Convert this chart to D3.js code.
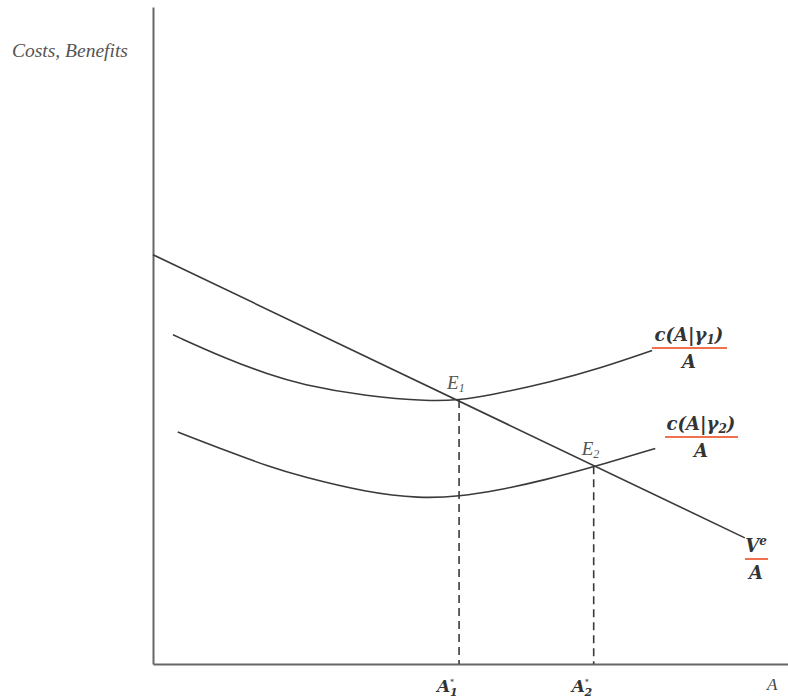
<!DOCTYPE html>
<html>
<head>
<meta charset="utf-8">
<script src="https://cdn.jsdelivr.net/npm/d3@7"></script>
<style>
  body { margin: 0; background: #fff; }
  svg { display: block; }
</style>
</head>
<body>
<div id="chart"></div>
<script>
// curve samples (A, value)
const costCurve1 = [
    [3.15, 50.1], [11.65, 46.4], [18.4, 44.0], [23.15, 42.6], [33.7, 40.7],
    [43.6, 40.0], [48.2, 40.2], [52.6, 40.8], [63.0, 43.0],
    [70.4, 45.0], [78.6, 47.7]
];
const costCurve2 = [
    [3.9, 35.3], [11.65, 32.4], [18.4, 30.0], [23.15, 28.6], [33.7, 26.1],
    [42.0, 25.2], [48.3, 25.5], [54.2, 26.4], [61.7, 28.0],
    [69.4, 30.0], [79.1, 32.8]
];
const benefitLine = [[0, 62.3], [93.2, 19.2]];
const equilibria = [
    { name: "E", sub: "1", a: 48.2, v: 40.2, star: "1" },
    { name: "E", sub: "2", a: 69.4, v: 30.1, star: "2" }
];

const W = 788, H = 700;
const margin = { top: 7, right: 0, bottom: 36, left: 153 };

const svg = d3.select("#chart")
    .append("svg")
    .attr("width", W)
    .attr("height", H);

const x = d3.scaleLinear().domain([0, 100]).range([margin.left, W - margin.right]);
const y = d3.scaleLinear().domain([0, 100]).range([H - margin.bottom, margin.top]);

// axes, no ticks
svg.append("g")
    .attr("transform", `translate(0,${y(0)})`)
    .call(d3.axisBottom(x).tickValues([]).tickSizeOuter(0))
    .select(".domain").attr("stroke", "#666").attr("stroke-width", 2);
svg.append("g")
    .attr("transform", `translate(${x(0)},0)`)
    .call(d3.axisLeft(y).tickValues([]).tickSizeOuter(0))
    .select(".domain").attr("stroke", "#666").attr("stroke-width", 2);

const smooth = d3.line()
    .x(d => x(d[0]))
    .y(d => y(d[1]))
    .curve(d3.curveBasis);

[costCurve1, costCurve2, benefitLine].forEach(data => {
    svg.append("path")
        .datum(data)
        .attr("d", smooth)
        .attr("fill", "none")
        .attr("stroke", "#3a3a3a")
        .attr("stroke-width", 1.6);
});

// dashed drops
svg.selectAll(".drop")
    .data(equilibria)
    .join("line")
    .attr("x1", d => x(d.a)).attr("x2", d => x(d.a))
    .attr("y1", d => y(d.v)).attr("y2", y(0))
    .attr("stroke", "#3a3a3a")
    .attr("stroke-width", 1.6)
    .attr("stroke-dasharray", "8,5");

// E labels
const eLab = svg.selectAll(".elab")
    .data(equilibria)
    .join("text")
    .attr("x", d => x(d.a) - 12)
    .attr("y", d => y(d.v) - 11)
    .style("font-family", "'Liberation Serif', serif")
    .style("font-style", "italic")
    .style("font-size", "19px")
    .attr("fill", "#555");
eLab.append("tspan").text(d => d.name);
eLab.append("tspan").attr("font-size", "12px").attr("dy", 3).text(d => d.sub);

const mathFont = "'DejaVu Serif', serif";

// A* labels under the axis: A, then stacked * over subscript
const aLab = svg.selectAll(".alab")
    .data(equilibria)
    .join("text")
    .attr("x", d => x(d.a) - 22)
    .attr("y", 692)
    .style("font-family", mathFont)
    .style("font-style", "italic")
    .style("font-weight", "bold")
    .style("font-size", "17px")
    .attr("fill", "#333");
aLab.append("tspan").text("A");
aLab.append("tspan").attr("font-size", "7px").attr("dy", -8).text("*");
aLab.append("tspan").attr("font-size", "11px").attr("dx", -4).attr("dy", 12).text(d => d.star);

svg.append("text")
    .attr("x", 767)
    .attr("y", 690)
    .style("font-family", "'Liberation Serif', serif")
    .style("font-style", "italic")
    .style("font-size", "17px")
    .attr("fill", "#444")
    .text("A");

svg.append("text")
    .attr("x", 12)
    .attr("y", 57)
    .style("font-family", "'Liberation Serif', serif")
    .style("font-style", "italic")
    .style("font-size", "19.5px")
    .attr("fill", "#555")
    .text("Costs, Benefits");

// fraction labels
function fraction(cx, lineY, x0, x1, build) {
    const g = svg.append("g");
    const num = g.append("text")
        .attr("x", cx)
        .attr("y", lineY - 7)
        .attr("text-anchor", "middle")
        .style("font-family", mathFont)
        .style("font-style", "italic")
        .style("font-weight", "bold")
        .style("font-size", "18px")
        .attr("fill", "#333");
    build(num);
    g.append("line")
        .attr("x1", x0).attr("x2", x1)
        .attr("y1", lineY).attr("y2", lineY)
        .attr("stroke", "#ef7150")
        .attr("stroke-width", 2);
    g.append("text")
        .attr("x", cx)
        .attr("y", lineY + 20)
        .attr("text-anchor", "middle")
        .style("font-family", mathFont)
        .style("font-style", "italic")
        .style("font-weight", "bold")
        .style("font-size", "18px")
        .attr("fill", "#333")
        .text("A");
}

function costNum(sub) {
    return t => {
        t.append("tspan").text("c(A|γ");
        t.append("tspan").attr("font-size", "12px").attr("dy", 3).text(sub);
        t.append("tspan").attr("dy", -3).text(")");
    };
}

fraction(689, 348, 652, 727, costNum("1"));
fraction(701, 437, 665, 738, costNum("2"));
fraction(756, 559, 745, 768, t => {
    t.append("tspan").text("V");
    t.append("tspan").attr("font-size", "12px").attr("dy", -7).text("e");
});
</script>
</body>
</html>
